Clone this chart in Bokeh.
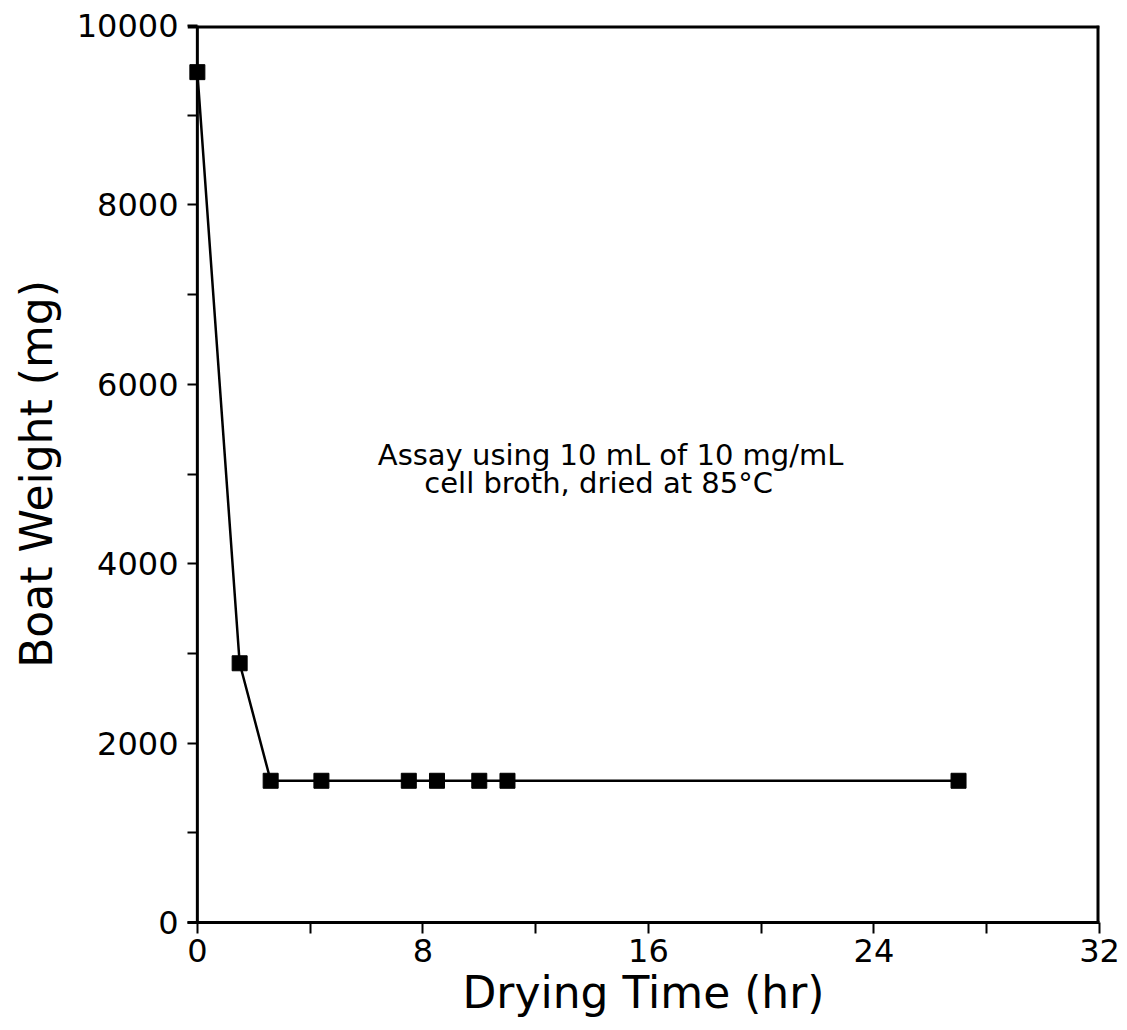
from bokeh.plotting import figure
from bokeh.models import Range1d, FixedTicker, Label, Span
from bokeh.embed import file_html
from bokeh.resources import INLINE

# Drying curve: boat weight vs. drying time
drying_time_hr = [0.0, 1.5, 2.6, 4.4, 7.5, 8.5, 10.0, 11.0, 27.0]
boat_weight_mg = [9480, 2890, 1580, 1580, 1580, 1580, 1580, 1580, 1580]

x_ticks = [0, 8, 16, 24, 32]
y_ticks = [0, 2000, 4000, 6000, 8000, 10000]
x_minor = [4, 12, 20, 28]
y_minor = [1000, 3000, 5000, 7000, 9000]

note_line1 = "Assay using 10 mL of 10 mg/mL"
note_line2 = "cell broth, dried at 85°C"

FONT = "DejaVu Sans"
TICK_LEN = 10

# a little room left of t=0 so the first marker is not cut off by the frame;
# the left axis sits at the frame edge and its ticks reach in to t=0
p = figure(width=1127, height=1030, output_backend="svg", toolbar_location=None,
           x_range=Range1d(-0.35, 32), y_range=Range1d(0, 10000),
           min_border_left=187, min_border_right=28, min_border_top=25,
           min_border_bottom=108)

p.grid.visible = False
p.outline_line_color = None
p.background_fill_color = "white"

for ax, ticks, minor in ((p.xaxis[0], x_ticks, x_minor), (p.yaxis[0], y_ticks, y_minor)):
    ax.ticker = FixedTicker(ticks=ticks, minor_ticks=minor)
    ax.axis_line_width = 3
    ax.axis_line_color = "black"
    ax.major_tick_line_width = 2
    ax.minor_tick_line_width = 2
    ax.major_label_text_font = FONT
    ax.major_label_text_font_size = "32px"
    ax.major_label_text_color = "black"
    ax.axis_label_text_font = FONT
    ax.axis_label_text_font_size = "44px"
    ax.axis_label_text_font_style = "normal"
    ax.axis_label_text_color = "black"

p.xaxis.major_tick_in = 0
p.xaxis.major_tick_out = 11
p.xaxis.minor_tick_in = 0
p.xaxis.minor_tick_out = 11

p.yaxis.axis_line_color = None
p.yaxis.major_tick_in = TICK_LEN
p.yaxis.major_tick_out = 0
p.yaxis.minor_tick_in = TICK_LEN
p.yaxis.minor_tick_out = 0

p.xaxis.axis_label = "Drying Time (hr)"
p.yaxis.axis_label = "Boat Weight (mg)"
p.xaxis.major_label_standoff = 5
p.yaxis.major_label_standoff = 9
p.xaxis.axis_label_standoff = 2
p.yaxis.axis_label_standoff = 12

# box: y axis line at t=0, plus top and right borders
# (the borders sit on the frame edge, where half of the stroke is clipped)
p.add_layout(Span(location=0, dimension="height", line_color="black", line_width=3))
p.add_layout(Span(location=10000, dimension="width", line_color="black", line_width=6))
p.add_layout(Span(location=32, dimension="height", line_color="black", line_width=6))

p.line(drying_time_hr, boat_weight_mg, line_color="black", line_width=2.5)
p.scatter(drying_time_hr, boat_weight_mg, marker="square", size=15,
          fill_color="black", line_color="black")

p.add_layout(Label(x=6.4, y=5400, text=note_line1, text_baseline="top",
                   text_font=FONT, text_font_size="29px", text_color="black"))
p.add_layout(Label(x=8.05, y=5085, text=note_line2, text_baseline="top",
                   text_font=FONT, text_font_size="29px", text_color="black"))

open("out.html", "w").write(file_html(p, INLINE))
